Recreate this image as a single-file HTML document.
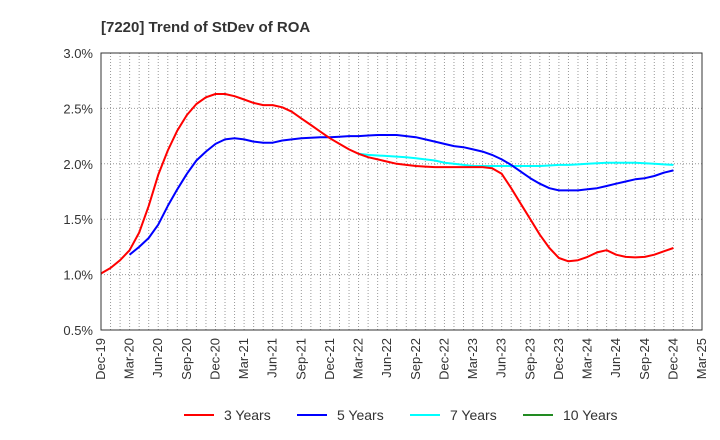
<!DOCTYPE html>
<html><head><meta charset="utf-8"><style>
body{margin:0;background:#fff;}
svg{display:block;font-family:"Liberation Sans",Arial,sans-serif;}
</style></head><body>
<svg id="chart" width="720" height="440">
<text x="101" y="32" font-size="15" font-weight="bold" fill="#333">[7220]  Trend of StDev of ROA</text>
<g id="grid"></g>
<g id="yaxis"></g>
<g id="xaxis"></g>
<g id="series"></g>
<rect x="101" y="53" width="601" height="277" fill="none" stroke="#333" stroke-width="1"/>
<g font-size="14" fill="#333">
<g><line x1="184" y1="415" x2="214" y2="415" stroke="#ff0000" stroke-width="2"/><text x="224" y="420">3 Years</text></g>
<g><line x1="297" y1="415" x2="327" y2="415" stroke="#0000ff" stroke-width="2"/><text x="337" y="420">5 Years</text></g>
<g><line x1="410" y1="415" x2="440" y2="415" stroke="#00ffff" stroke-width="2"/><text x="450" y="420">7 Years</text></g>
<g><line x1="523" y1="415" x2="553" y2="415" stroke="#228b22" stroke-width="2"/><text x="563" y="420">10 Years</text></g>
</g>
</svg>
<script>
const xTickLabels=["Dec-19","Mar-20","Jun-20","Sep-20","Dec-20","Mar-21","Jun-21","Sep-21","Dec-21","Mar-22","Jun-22","Sep-22","Dec-22","Mar-23","Jun-23","Sep-23","Dec-23","Mar-24","Jun-24","Sep-24","Dec-24","Mar-25"];
const yTicks=[0.5,1.0,1.5,2.0,2.5,3.0];
const red3=[1.01,1.06,1.13,1.22,1.38,1.62,1.90,2.12,2.30,2.44,2.54,2.60,2.63,2.63,2.61,2.58,2.55,2.53,2.53,2.51,2.47,2.41,2.35,2.29,2.23,2.18,2.13,2.09,2.06,2.04,2.02,2.00,1.99,1.98,1.975,1.97,1.97,1.97,1.97,1.97,1.97,1.96,1.91,1.78,1.64,1.50,1.36,1.24,1.15,1.12,1.13,1.16,1.20,1.22,1.18,1.16,1.155,1.16,1.18,1.21,1.24];
const blue5Start=3;
const blue5=[1.18,1.25,1.33,1.45,1.62,1.77,1.91,2.03,2.11,2.18,2.22,2.23,2.22,2.20,2.19,2.19,2.21,2.22,2.23,2.235,2.24,2.24,2.245,2.25,2.25,2.255,2.26,2.26,2.26,2.25,2.24,2.22,2.20,2.18,2.16,2.15,2.13,2.11,2.08,2.04,1.99,1.93,1.87,1.82,1.78,1.76,1.76,1.76,1.77,1.78,1.80,1.82,1.84,1.86,1.87,1.89,1.92,1.94];
const cyan7Start=27;
const cyan7=[2.09,2.08,2.075,2.07,2.065,2.06,2.05,2.04,2.03,2.01,2.00,1.99,1.98,1.98,1.98,1.98,1.98,1.98,1.98,1.98,1.985,1.99,1.99,1.995,2.00,2.005,2.01,2.01,2.01,2.01,2.005,2.00,1.995,1.99];
const green10=[];
const NS="http://www.w3.org/2000/svg";
const X0=101,X1=702,Y0=330,Y1=53,MONTHS=63;
function xs(m){return X0+(X1-X0)*m/MONTHS;}
function ys(v){return Y0-(v-0.5)/2.5*(Y0-Y1);}
function mk(tag,attrs,parent){const e=document.createElementNS(NS,tag);for(const k in attrs)e.setAttribute(k,attrs[k]);parent.appendChild(e);return e;}
const grid=document.getElementById('grid'),ya=document.getElementById('yaxis'),xa=document.getElementById('xaxis'),ser=document.getElementById('series');
for(let m=1;m<MONTHS;m++){
  const l=mk('line',{x1:xs(m),x2:xs(m),y1:Y1,y2:Y0,stroke:'#999','stroke-width':1,'stroke-dasharray':'1,2'},grid);
  
  
}
yTicks.forEach(v=>{
  const l=mk('line',{x1:X0,x2:X1,y1:ys(v),y2:ys(v),stroke:'#999','stroke-width':1,'stroke-dasharray':'1,2'},grid);
  
  
  const t=mk('text',{x:X0-8,y:ys(v)+5,'text-anchor':'end','font-size':13,fill:'#333'},ya);
  t.textContent=v.toFixed(1)+'%';
  
  
});
xTickLabels.forEach((s,i)=>{
  const x=xs(i*3)+4,y=Y0+8;
  const t=mk('text',{x:x,y:y,'text-anchor':'end','font-size':13,fill:'#333',transform:`rotate(-90 ${x} ${y})`},xa);
  t.textContent=s;
  
  
});
function line(arr,start,color,name){
  if(!arr.length)return;
  const pts=arr.map((v,i)=>xs(start+i).toFixed(1)+','+ys(v).toFixed(1)).join(' ');
  const p=mk('polyline',{points:pts,fill:'none',stroke:color,'stroke-width':2,'stroke-linejoin':'round'},ser);
  
  
}
line(cyan7,cyan7Start,'#00ffff','line-7-years');
line(blue5,blue5Start,'#0000ff','line-5-years');
line(red3,0,'#ff0000','line-3-years');
line(green10,0,'#228b22','line-10-years');
</script>
</body></html>
